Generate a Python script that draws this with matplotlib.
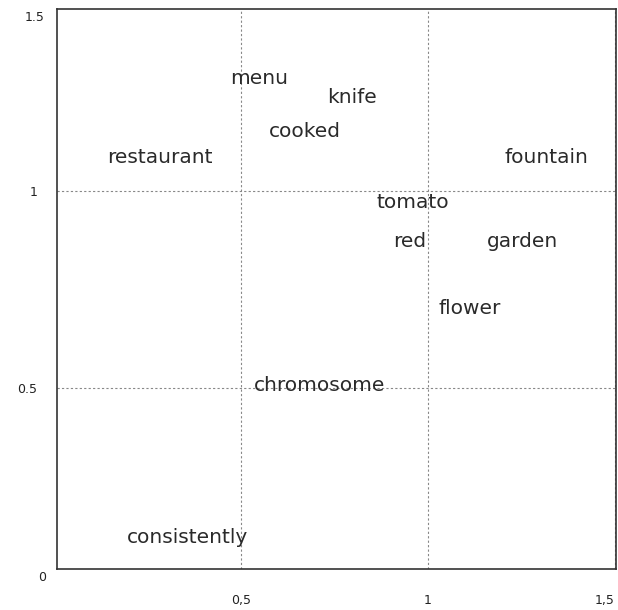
import matplotlib.pyplot as plt

# words and their 2d coordinates
words = ["menu", "knife", "cooked", "restaurant", "fountain", "tomato",
         "red", "garden", "flower", "chromosome", "consistently"]
xs = [0.549, 0.798, 0.672, 0.284, 1.319, 0.961, 0.953, 1.255, 1.113, 0.712, 0.359]
ys = [1.284, 1.236, 1.152, 1.086, 1.086, 0.972, 0.871, 0.871, 0.703, 0.506, 0.123]

x_ticks = [0.5, 1, 1.5]
x_labels = ["0,5", "1", "1,5"]
y_ticks = [0.5, 1]
y_labels = ["0.5", "1"]

fig = plt.figure(figsize=(6.18, 6.10), dpi=100)
ax = fig.add_axes([0.0917, 0.0672, 0.9051, 0.9185])

for w, x, y in zip(words, xs, ys):
    ax.text(x, y, w, ha="center", va="center", fontsize=14.5, color="#2a2a2a")

ax.set_xlim(0.008, 1.504)
ax.set_ylim(0.042, 1.462)
ax.set_xticks(x_ticks)
ax.set_xticklabels(x_labels)
ax.set_yticks(y_ticks)
ax.set_yticklabels(y_labels)
ax.get_xticklabels()[-1].set_ha("right")
ax.tick_params(length=0, labelsize=9, colors="#222222")
ax.tick_params(axis="x", pad=18)
ax.tick_params(axis="y", pad=14)

# corner labels
ax.text(-0.026, -0.016, "0", transform=ax.transAxes, ha="center", va="center", fontsize=9, color="#222222")
ax.text(-0.040, 0.985, "1.5", transform=ax.transAxes, ha="center", va="center", fontsize=9, color="#222222")

ax.grid(True, color="#888888", linestyle=(0, (2, 2)), linewidth=0.8)
for s in ax.spines.values():
    s.set_color("#333333")
    s.set_linewidth(1.2)

plt.savefig("out.png", dpi=100)
